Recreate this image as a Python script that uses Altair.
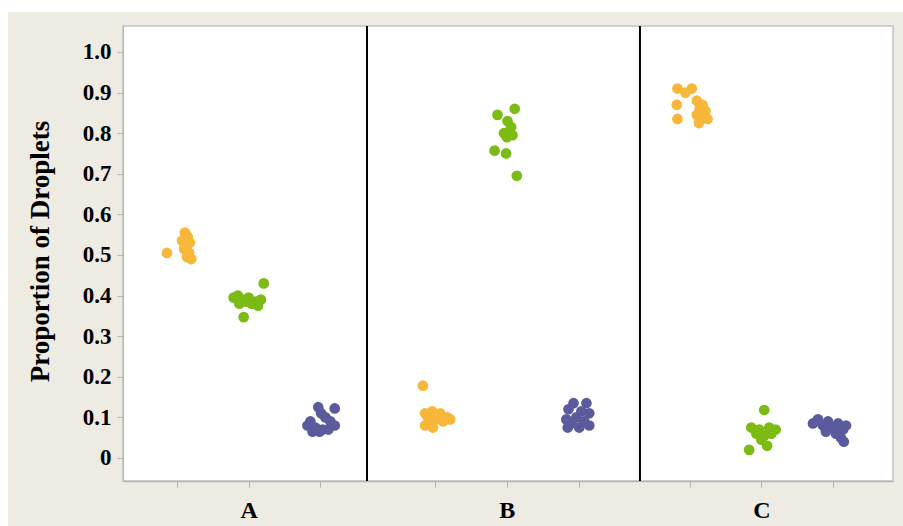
import altair as alt
import pandas as pd

groups = ["A", "B", "C"]
series = ["Orange", "Green", "Purple"]
colors = ["#f6b73a", "#7cbb14", "#5b5a9c"]

# x-axis slot for each (group, series) cluster
slots = {
    ("A", "Orange"): 1.0, ("A", "Green"): 2.0, ("A", "Purple"): 3.0,
    ("B", "Orange"): 4.6, ("B", "Green"): 5.6, ("B", "Purple"): 6.6,
    ("C", "Orange"): 8.15, ("C", "Green"): 9.15, ("C", "Purple"): 10.15,
}
separators = [3.65, 7.457]

# proportions (y) and horizontal jitter
A_orange_y = [0.505, 0.555, 0.545, 0.535, 0.525, 0.53, 0.515, 0.505, 0.495, 0.49, 0.52]
A_orange_j = [-0.14, 0.11, 0.15, 0.07, 0.13, 0.18, 0.10, 0.17, 0.14, 0.20, 0.11]
A_green_y = [0.43, 0.395, 0.40, 0.39, 0.385, 0.38, 0.385, 0.39, 0.38, 0.395, 0.347, 0.375]
A_green_j = [0.21, -0.21, -0.15, -0.08, -0.03, 0.04, 0.10, 0.17, -0.13, 0.0, -0.07, 0.13]
A_purple_y = [0.125, 0.122, 0.11, 0.10, 0.09, 0.09, 0.08, 0.075, 0.07, 0.07, 0.08, 0.065, 0.065]
A_purple_j = [-0.03, 0.20, 0.01, 0.07, 0.14, -0.14, -0.18, -0.07, 0.03, 0.11, 0.20, -0.11, -0.01]
B_orange_y = [0.178, 0.11, 0.115, 0.11, 0.10, 0.10, 0.095, 0.095, 0.085, 0.08, 0.075, 0.09]
B_orange_j = [-0.17, -0.14, -0.04, 0.07, 0.17, -0.10, 0.01, 0.21, -0.07, -0.14, -0.03, 0.11]
B_green_y = [0.86, 0.845, 0.83, 0.815, 0.80, 0.795, 0.79, 0.757, 0.75, 0.695]
B_green_j = [0.11, -0.13, 0.01, 0.06, -0.04, 0.08, 0.0, -0.17, -0.01, 0.14]
B_purple_y = [0.135, 0.135, 0.12, 0.115, 0.11, 0.10, 0.095, 0.09, 0.085, 0.075, 0.075, 0.08]
B_purple_j = [-0.07, 0.11, -0.14, 0.04, 0.15, -0.03, -0.17, 0.08, -0.10, 0.01, -0.15, 0.15]
C_orange_y = [0.91, 0.91, 0.90, 0.87, 0.835, 0.88, 0.87, 0.86, 0.855, 0.845, 0.84, 0.825, 0.835]
C_orange_j = [-0.17, 0.03, -0.06, -0.18, -0.17, 0.10, 0.18, 0.14, 0.22, 0.10, 0.18, 0.13, 0.25]
C_green_y = [0.118, 0.075, 0.07, 0.075, 0.07, 0.06, 0.055, 0.06, 0.045, 0.03, 0.02]
C_green_j = [0.04, -0.14, -0.03, 0.11, 0.20, -0.07, 0.04, 0.14, 0.0, 0.08, -0.17]
C_purple_y = [0.095, 0.09, 0.085, 0.085, 0.08, 0.08, 0.075, 0.07, 0.065, 0.06, 0.05, 0.04]
C_purple_j = [-0.21, -0.07, -0.28, 0.07, 0.18, -0.14, 0.0, 0.14, -0.10, 0.04, 0.11, 0.15]

clusters = {
    ("A", "Orange"): (A_orange_y, A_orange_j),
    ("A", "Green"): (A_green_y, A_green_j),
    ("A", "Purple"): (A_purple_y, A_purple_j),
    ("B", "Orange"): (B_orange_y, B_orange_j),
    ("B", "Green"): (B_green_y, B_green_j),
    ("B", "Purple"): (B_purple_y, B_purple_j),
    ("C", "Orange"): (C_orange_y, C_orange_j),
    ("C", "Green"): (C_green_y, C_green_j),
    ("C", "Purple"): (C_purple_y, C_purple_j),
}

rows = []
for (g, s), (ys, js) in clusters.items():
    for yv, jv in zip(ys, js):
        rows.append({"group": g, "series": s, "x": slots[(g, s)] + jv, "y": yv})
df = pd.DataFrame(rows)

W, H = 770, 455
FONT = "Liberation Serif"
xdom = [0.247, 10.986]
ydom = [-0.0567, 1.064]
tick_vals = [slots[k] for k in slots]

white_top = alt.Chart(pd.DataFrame({"k": [0]})).mark_rect(color="white").encode(
    x=alt.value(-123), x2=alt.value(W + 10),
    y=alt.value(-26), y2=alt.value(-14),
)
white_left = alt.Chart(pd.DataFrame({"k": [0]})).mark_rect(color="white").encode(
    x=alt.value(-123), x2=alt.value(-115),
    y=alt.value(-26), y2=alt.value(H + 45),
)

points = alt.Chart(df).mark_circle(size=115, opacity=1).encode(
    x=alt.X("x:Q", scale=alt.Scale(domain=xdom, nice=False, zero=False),
            axis=alt.Axis(values=tick_vals, title=None, grid=False,
                          labelExpr="abs(datum.value-2)<0.01 ? 'A' : abs(datum.value-5.6)<0.01 ? 'B' : abs(datum.value-9.15)<0.01 ? 'C' : ''",
                          labelFont=FONT, labelFontWeight="bold", labelFontSize=24,
                          labelColor="black", labelPadding=11, tickSize=6,
                          tickColor="#b5b5b5", domainColor="#b5b5b5", domainWidth=1.5)),
    y=alt.Y("y:Q", scale=alt.Scale(domain=ydom, nice=False, zero=False),
            axis=alt.Axis(values=[0, 0.1, 0.2, 0.3, 0.4, 0.5, 0.6, 0.7, 0.8, 0.9, 1.0],
                          labelExpr="datum.value == 0 ? '0' : format(datum.value, '.1f')",
                          title="Proportion of Droplets", grid=False,
                          labelFont=FONT, labelFontWeight="bold", labelFontSize=23,
                          labelColor="black", labelPadding=6, tickSize=6,
                          tickColor="#b5b5b5", domainColor="#b5b5b5",
                          titleFont=FONT, titleFontWeight="bold", titleFontSize=27,
                          titleColor="black", titleX=-83, titleY=225,
                          titleAngle=-90, titleAlign="center", titleBaseline="middle")),
    color=alt.Color("series:N", scale=alt.Scale(domain=series, range=colors), legend=None),
)

rules = alt.Chart(pd.DataFrame({"x": separators})).mark_rule(color="black", strokeWidth=2).encode(
    x=alt.X("x:Q", scale=alt.Scale(domain=xdom, nice=False, zero=False))
)

chart = alt.layer(white_top, white_left, points, rules).properties(
    width=W, height=H,
    background="#eeebe2",
    padding={"left": 123, "top": 26, "right": 10, "bottom": 45},
    autosize=alt.AutoSizeParams(type="none"),
).configure_view(fill="white", stroke="#c4c4c4", strokeWidth=1.5)

chart.save("out.html", embed_options={"renderer": "svg", "actions": False})
